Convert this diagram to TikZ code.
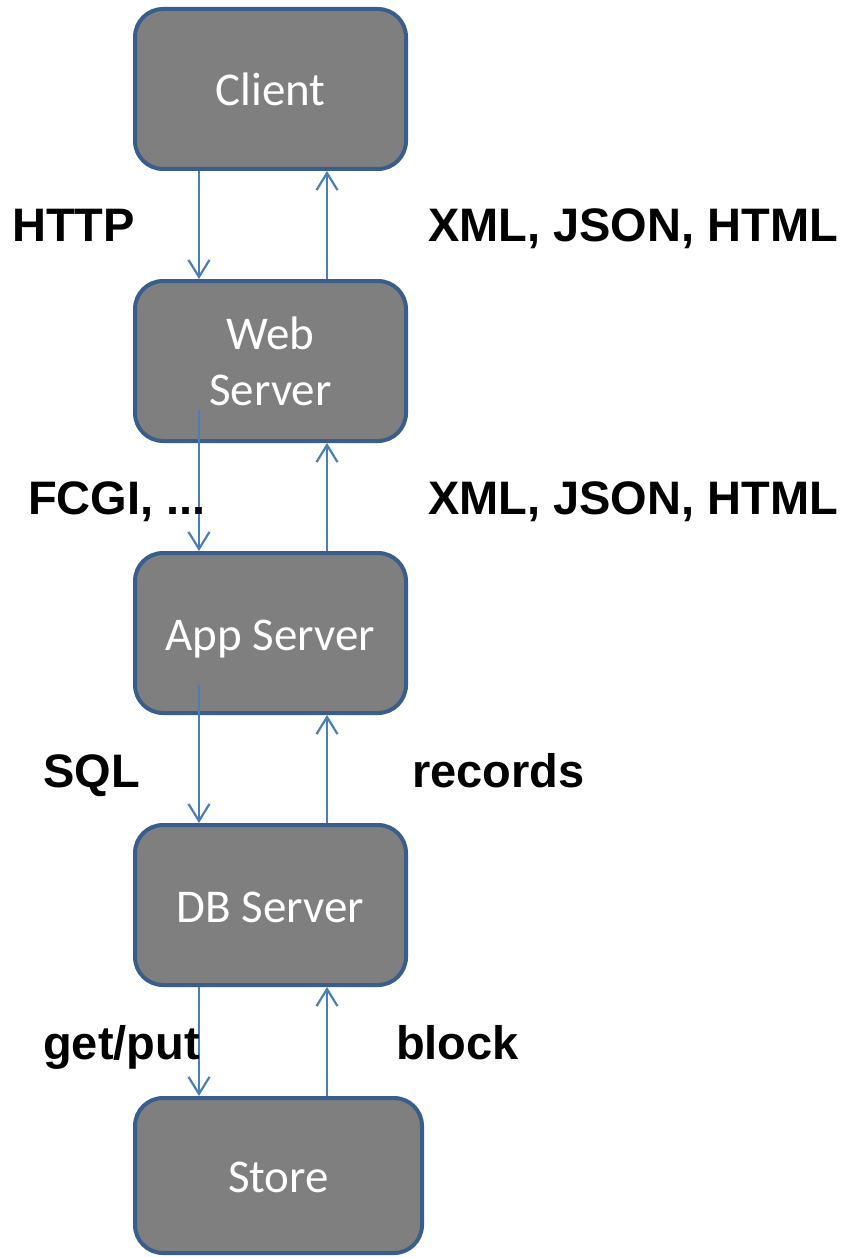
\documentclass[tikz,border=0pt]{standalone}
\usepackage{fontspec}
\setmainfont{Liberation Sans}
\newfontfamily\boxfont{Carlito}
\usetikzlibrary{arrows.meta}

\definecolor{boxfill}{HTML}{7F7F7F}
\definecolor{boxline}{HTML}{3A5E8C}
\definecolor{flowline}{HTML}{4A7EBB}

\tikzset{
  tier/.style={draw=boxline, line width=4pt, fill=boxfill, rounded corners=28pt,
    minimum width=271pt, minimum height=160pt, inner sep=0pt,
    font=\boxfont\fontsize{47}{56}\selectfont, text=white, align=center},
  oneline/.style={text height=34pt, text depth=0pt},
  flow/.style={draw=flowline, line width=2.2pt,
    -{Straight Barb[length=17pt, width=21pt, line width=2.2pt]}},
  proto/.style={anchor=base west, inner sep=0pt,
    font=\bfseries\fontsize{47}{56}\selectfont, text=black}
}

\begin{document}
\begin{tikzpicture}[x=1pt, y=-1pt]
  \useasboundingbox (0,0) rectangle (846,1257);

  % the five tiers, top to bottom
  \node[tier, oneline] (client) at (270.5,89)  {Client};
  \node[tier]          (web)    at (270.5,361) {Web\\Server};
  \node[tier, oneline] (app)    at (270.5,633) {App Server};
  \node[tier, oneline] (db)     at (270.5,905) {DB Server};
  \node[tier, oneline, minimum width=287pt, minimum height=155pt]
                       (store)  at (278.5,1175.5) {Store};

  % columns of the request (down) and response (up) lines
  \coordinate (req) at (199,0);
  \coordinate (res) at (327,0);

  % requests
  \draw[flow] (client.south -| req) -- (web.north -| req);
  \draw[flow] ([yshift=33pt]web.south -| req) -- (app.north -| req);
  \draw[flow] ([yshift=30pt]app.south -| req) -- (db.north -| req);
  \draw[flow] (db.south -| req) -- (store.north -| req);

  % responses
  \draw[flow] (web.north -| res) -- (client.south -| res);
  \draw[flow] (app.north -| res) -- (web.south -| res);
  \draw[flow] (db.north -| res) -- (app.south -| res);
  \draw[flow] (store.north -| res) -- (db.south -| res);

  % protocol labels
  \node[proto] (l1) at (12,242)   {HTTP};
  \node[proto] (r1) at (428,242)  {XML, JSON, HTML};
  \node[proto] (l2) at (28,514)   {FCGI, ...};
  \node[proto] (r2) at (428,514)  {XML, JSON, HTML};
  \node[proto] (l3) at (43,787)   {SQL};
  \node[proto] (r3) at (412,787)  {records};
  \node[proto] (l4) at (43,1059)  {get/put};
  \node[proto] (r4) at (396,1059) {block};
\end{tikzpicture}
\end{document}
